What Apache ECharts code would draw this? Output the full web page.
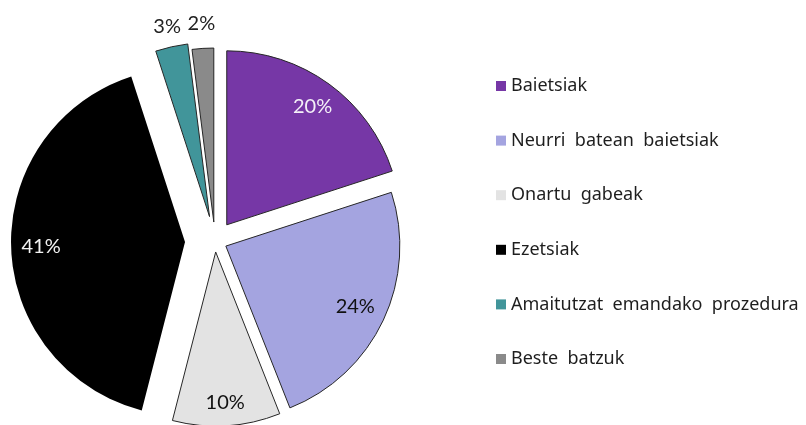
<!DOCTYPE html>
<html>
<head>
<meta charset="utf-8">
<script src="https://cdn.jsdelivr.net/npm/echarts@6/dist/echarts.min.js"></script>
<style>
html, body { margin: 0; padding: 0; background: #fff; }
#main { width: 806px; height: 425px; }
</style>
</head>
<body>
<div id="main"></div>
<script>
// datuak
var categories = ['Baietsiak', 'Neurri batean baietsiak', 'Onartu gabeak', 'Ezetsiak', 'Amaitutzat emandako prozedura', 'Beste batzuk'];
var values = [20, 24, 10, 41, 3, 2];

// estiloak: koloreak, zati bakoitzaren desplazamendua eta etiketen distantzia
var colors = ['#7637a6', '#a4a4e0', '#e3e3e3', '#000000', '#41959a', '#8a8a8a'];
var explode = [20, 12, 11, 30, 25, 19];
var labelDist = [143, 140, 148, 141, 191.5, 195.5];
var labelColors = ['#f4f0f8', '#111111', '#111111', '#f2f2f2', '#222222', '#222222'];
var labelOffsets = [[0, 0], [0, 0], [0, 0], [0, 0], [0, 0], [24, 0]];

var center = [215, 241];
var radius = 174;
var hidden = { color: 'rgba(0,0,0,0)', borderWidth: 0 };

var myChart = echarts.init(document.getElementById('main'));

var series = [];
categories.forEach(function (name, i) {
	// zati bakarra marrazten duen seriea (bakoitzak bere desplazamendua)
	series.push({
		type: 'pie',
		center: center,
		radius: [0, radius],
		startAngle: 90,
		selectedMode: 'multiple',
		selectedOffset: explode[i],
		silent: true,
		animation: false,
		emphasis: { disabled: true },
		label: { show: false },
		labelLine: { show: false },
		data: categories.map(function (n, j) {
			if (j !== i) {
				return { name: n, value: values[j], itemStyle: hidden };
			}
			return {
				name: n,
				value: values[j],
				selected: true,
				itemStyle: { color: colors[j], borderColor: '#262626', borderWidth: j === 3 ? 0 : 1 }
			};
		})
	});
	// etiketa
	series.push({
		type: 'pie',
		center: center,
		radius: [labelDist[i] - 10, labelDist[i] + 10],
		startAngle: 90,
		selectedMode: 'multiple',
		selectedOffset: explode[i],
		silent: true,
		animation: false,
		avoidLabelOverlap: false,
		percentPrecision: 0,
		emphasis: { disabled: true },
		label: {
			show: false,
			position: 'inside',
			formatter: '{d}%',
			fontFamily: 'Lato',
			fontSize: 20,
			color: labelColors[i],
			offset: labelOffsets[i]
		},
		labelLine: { show: false },
		data: categories.map(function (n, j) {
			var item = { name: n, value: values[j], itemStyle: hidden };
			if (j === i) {
				item.selected = true;
				item.label = { show: true };
			}
			return item;
		})
	});
});

myChart.setOption({
	animation: false,
	legend: {
		orient: 'vertical',
		left: 491,
		top: 71,
		icon: 'rect',
		itemWidth: 10,
		itemHeight: 10,
		itemGap: 34.6,
		selectedMode: false,
		data: categories.map(function (n, i) {
			return { name: n, itemStyle: { color: colors[i], borderWidth: 0 } };
		}),
		formatter: function (n) {
			return n.replace(/ /g, '  ');
		},
		textStyle: {
			fontFamily: 'Noto Sans',
			fontSize: 18,
			lineHeight: 20,
			color: '#1e1e1e'
		}
	},
	series: series
});
</script>
</body>
</html>
